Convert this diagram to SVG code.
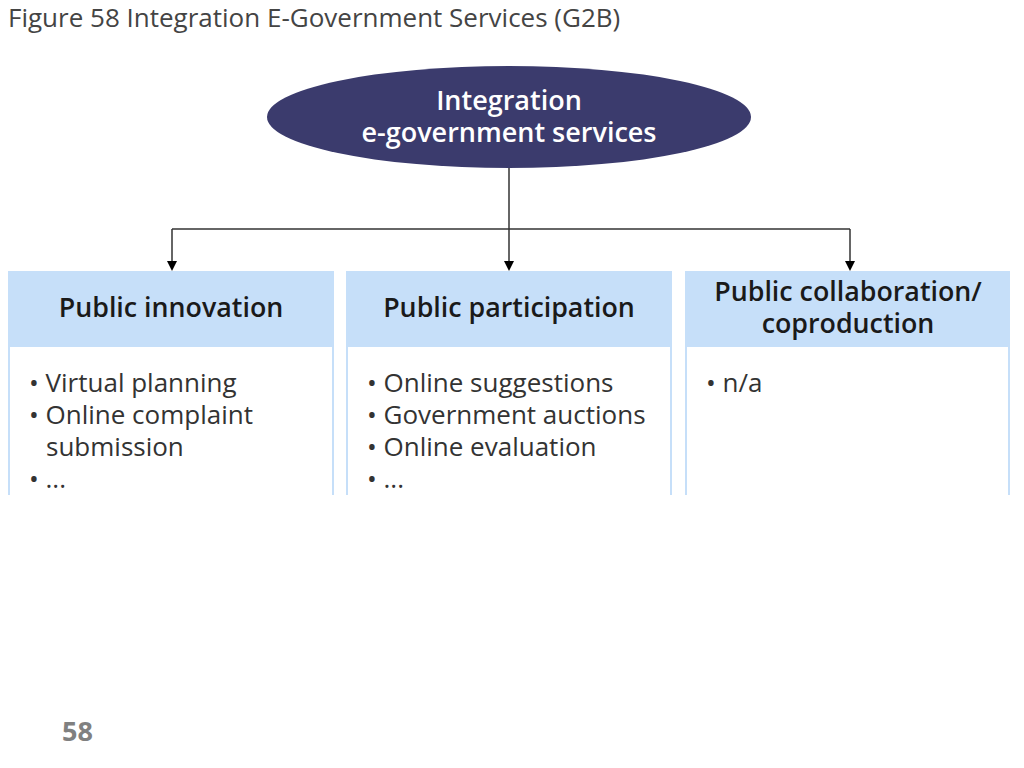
<svg xmlns="http://www.w3.org/2000/svg" width="1024" height="768" viewBox="0 0 1024 768">
<style>
.title{font-family:"Open Sans","Liberation Sans",sans-serif;font-size:26px;fill:#444}
.hdr{fill:#c6dff9}
.body{fill:#fff;stroke:#c6dff9;stroke-width:2}
.ht{font-family:"Open Sans","Liberation Sans",sans-serif;font-size:26.8px;font-weight:600;fill:#1a1a1a;text-anchor:middle}
.bt{font-family:"Open Sans","Liberation Sans",sans-serif;font-size:26px;fill:#333}
.et{font-family:"Open Sans","Liberation Sans",sans-serif;font-size:27px;font-weight:600;fill:#fff;text-anchor:middle}
.pn{font-family:"Open Sans","Liberation Sans",sans-serif;font-size:27px;font-weight:700;fill:#808080}
.conn{stroke:#333;stroke-width:1.5;fill:none}
</style>
<defs>
<marker id="arr" markerWidth="10" markerHeight="10" refX="7" refY="5" orient="auto" markerUnits="userSpaceOnUse" viewBox="0 0 10 10">
<path d="M0,0 L10,5 L0,10 z" fill="#000"/>
</marker>
</defs>
<rect width="1024" height="768" fill="#fff"/>
<text class="title" x="8" y="27">Figure 58 Integration E-Government Services (G2B)</text>
<g id="connectors">
<line class="conn" x1="509" y1="168" x2="509" y2="229"/>
<line class="conn" x1="172" y1="229" x2="850" y2="229"/>
<line class="conn" x1="509" y1="229" x2="509" y2="268" marker-end="url(#arr)"/>
<line class="conn" x1="172" y1="229" x2="172" y2="268" marker-end="url(#arr)"/>
<line class="conn" x1="850" y1="229" x2="850" y2="268" marker-end="url(#arr)"/>
</g>
<g id="root">
<ellipse cx="509" cy="117" rx="242" ry="51" fill="#3b3b6d"/>
<text class="et" x="509" y="110">Integration</text>
<text class="et" x="509" y="142">e-government services</text>
</g>
<g id="innovation">
<path class="body" d="M9,347 V495 M333,347 V495"/>
<rect class="hdr" x="8" y="271" width="326" height="76"/>
<text class="ht" x="171" y="317">Public innovation</text>
<text class="bt" x="29" y="392">• Virtual planning</text>
<text class="bt" x="29" y="424">• Online complaint</text>
<text class="bt" x="46" y="456">submission</text>
<text class="bt" x="29" y="488">• ...</text>
</g>
<g id="participation">
<path class="body" d="M347,347 V495 M671,347 V495"/>
<rect class="hdr" x="346" y="271" width="326" height="76"/>
<text class="ht" x="509" y="317">Public participation</text>
<text class="bt" x="367" y="392">• Online suggestions</text>
<text class="bt" x="367" y="424">• Government auctions</text>
<text class="bt" x="367" y="456">• Online evaluation</text>
<text class="bt" x="367" y="488">• ...</text>
</g>
<g id="collaboration">
<path class="body" d="M686,347 V495 M1009,347 V495"/>
<rect class="hdr" x="685" y="271" width="325" height="76"/>
<text class="ht" x="848" y="301">Public collaboration/</text>
<text class="ht" x="848" y="333">coproduction</text>
<text class="bt" x="706" y="392">• n/a</text>
</g>
<text class="pn" x="62" y="741">58</text>
</svg>
